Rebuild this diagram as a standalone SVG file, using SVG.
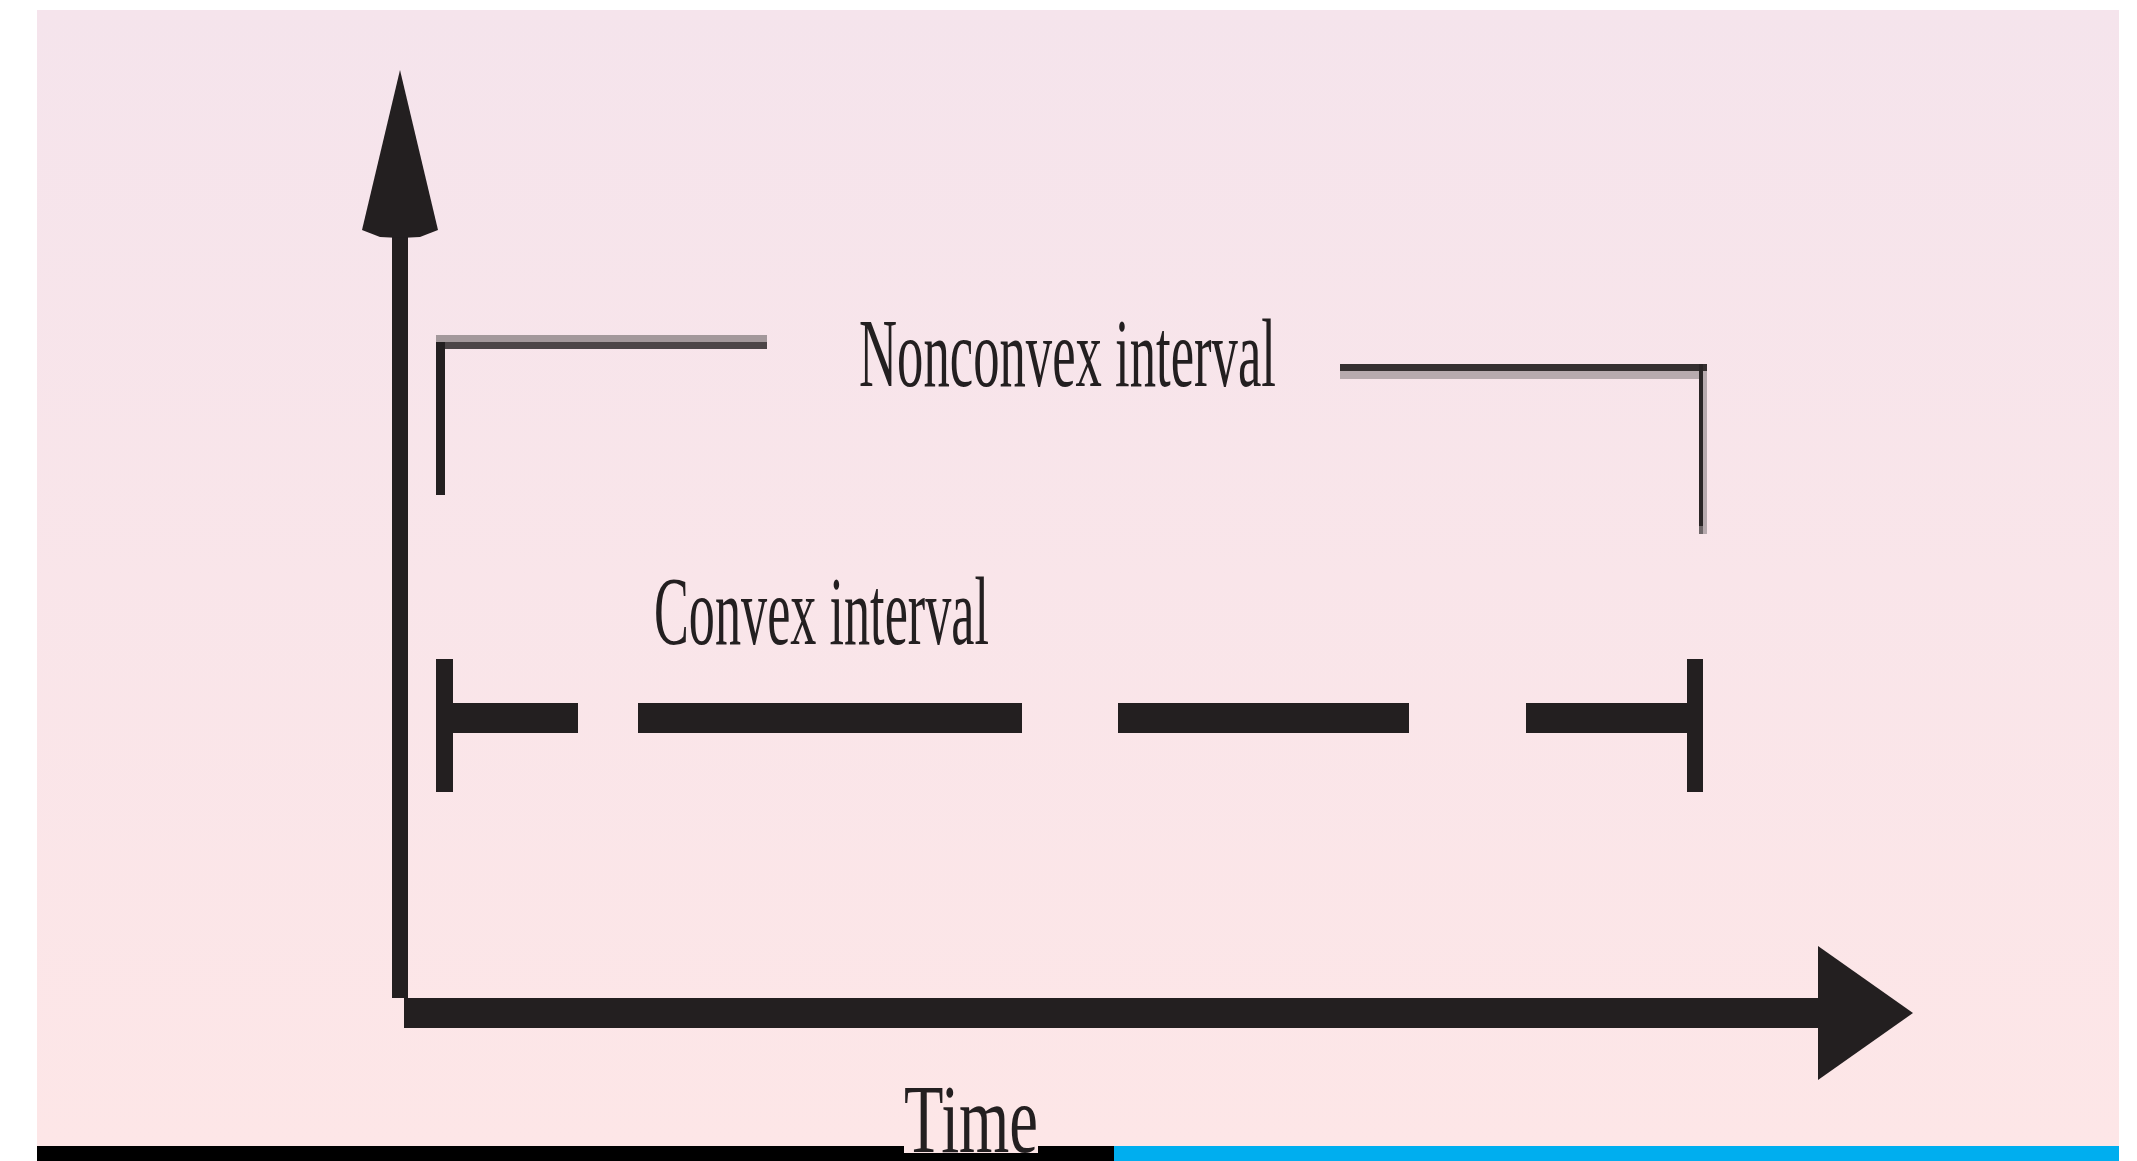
<svg xmlns="http://www.w3.org/2000/svg" width="2137" height="1161" viewBox="0 0 2137 1161">
  <defs>
    <linearGradient id="bgGrad" x1="0" y1="0" x2="0" y2="1">
      <stop offset="0" stop-color="#f5e4ec"/>
      <stop offset="1" stop-color="#fde6e7"/>
    </linearGradient>
    <style>
      .ink { fill: #231f20; }
      .label { font-family: "Liberation Serif", "Times New Roman", serif; font-size: 97px; fill: #231f20; }
    </style>
  </defs>

  <!-- page -->
  <rect x="0" y="0" width="2137" height="1161" fill="#ffffff"/>
  <rect x="37" y="10" width="2082" height="1136" fill="url(#bgGrad)"/>

  <!-- footer rule -->
  <rect x="37" y="1146" width="1077" height="15" fill="#000000"/>
  <rect x="1114" y="1146" width="1005" height="15" fill="#00aeef"/>

  <g id="connectors">
    <!-- vertical axis -->
    <g id="axis-y">
      <rect class="ink" x="392" y="225" width="16" height="773"/>
      <polygon class="ink" points="400,70 438,230 420,237 400,238 380,237 362,230"/>
    </g>
    <!-- time axis -->
    <g id="axis-x">
      <rect class="ink" x="404" y="998" width="1416" height="30"/>
      <polygon class="ink" points="1818,946 1913,1013 1818,1080"/>
    </g>
  </g>

  <!-- nonconvex interval bracket -->
  <g id="nonconvex-interval">
    <rect x="436" y="335" width="331" height="7" fill="#a3989b"/>
    <rect x="436" y="342" width="331" height="7" fill="#4c4547"/>
    <rect class="ink" x="436" y="342" width="9" height="153"/>
    <rect x="1340" y="364" width="367" height="7" fill="#352f30"/>
    <rect x="1340" y="371" width="367" height="8" fill="#b7aaae"/>
    <rect x="1699" y="364" width="4" height="162" fill="#2a2526"/>
    <rect x="1703" y="371" width="4" height="163" fill="#b7aaae"/>
    <rect x="1699" y="526" width="4" height="8" fill="#6e6668"/>
    <text class="label" x="859" y="386" textLength="417" lengthAdjust="spacingAndGlyphs">Nonconvex interval</text>
  </g>

  <!-- convex interval: dashed bar with end ticks -->
  <g id="convex-interval">
    <rect class="ink" x="436" y="659" width="17" height="133"/>
    <rect class="ink" x="453" y="703" width="125" height="30"/>
    <rect class="ink" x="638" y="703" width="384" height="30"/>
    <rect class="ink" x="1118" y="703" width="291" height="30"/>
    <rect class="ink" x="1526" y="703" width="161" height="30"/>
    <rect class="ink" x="1687" y="659" width="16" height="133"/>
    <text class="label" x="654" y="644" textLength="335" lengthAdjust="spacingAndGlyphs">Convex interval</text>
  </g>

  <!-- axis caption -->
  <g id="time-label">
    <rect x="904" y="1146" width="134" height="7" fill="#fde6e7"/>
    <text class="label" x="904" y="1152" textLength="134" lengthAdjust="spacingAndGlyphs">Time</text>
  </g>
</svg>
